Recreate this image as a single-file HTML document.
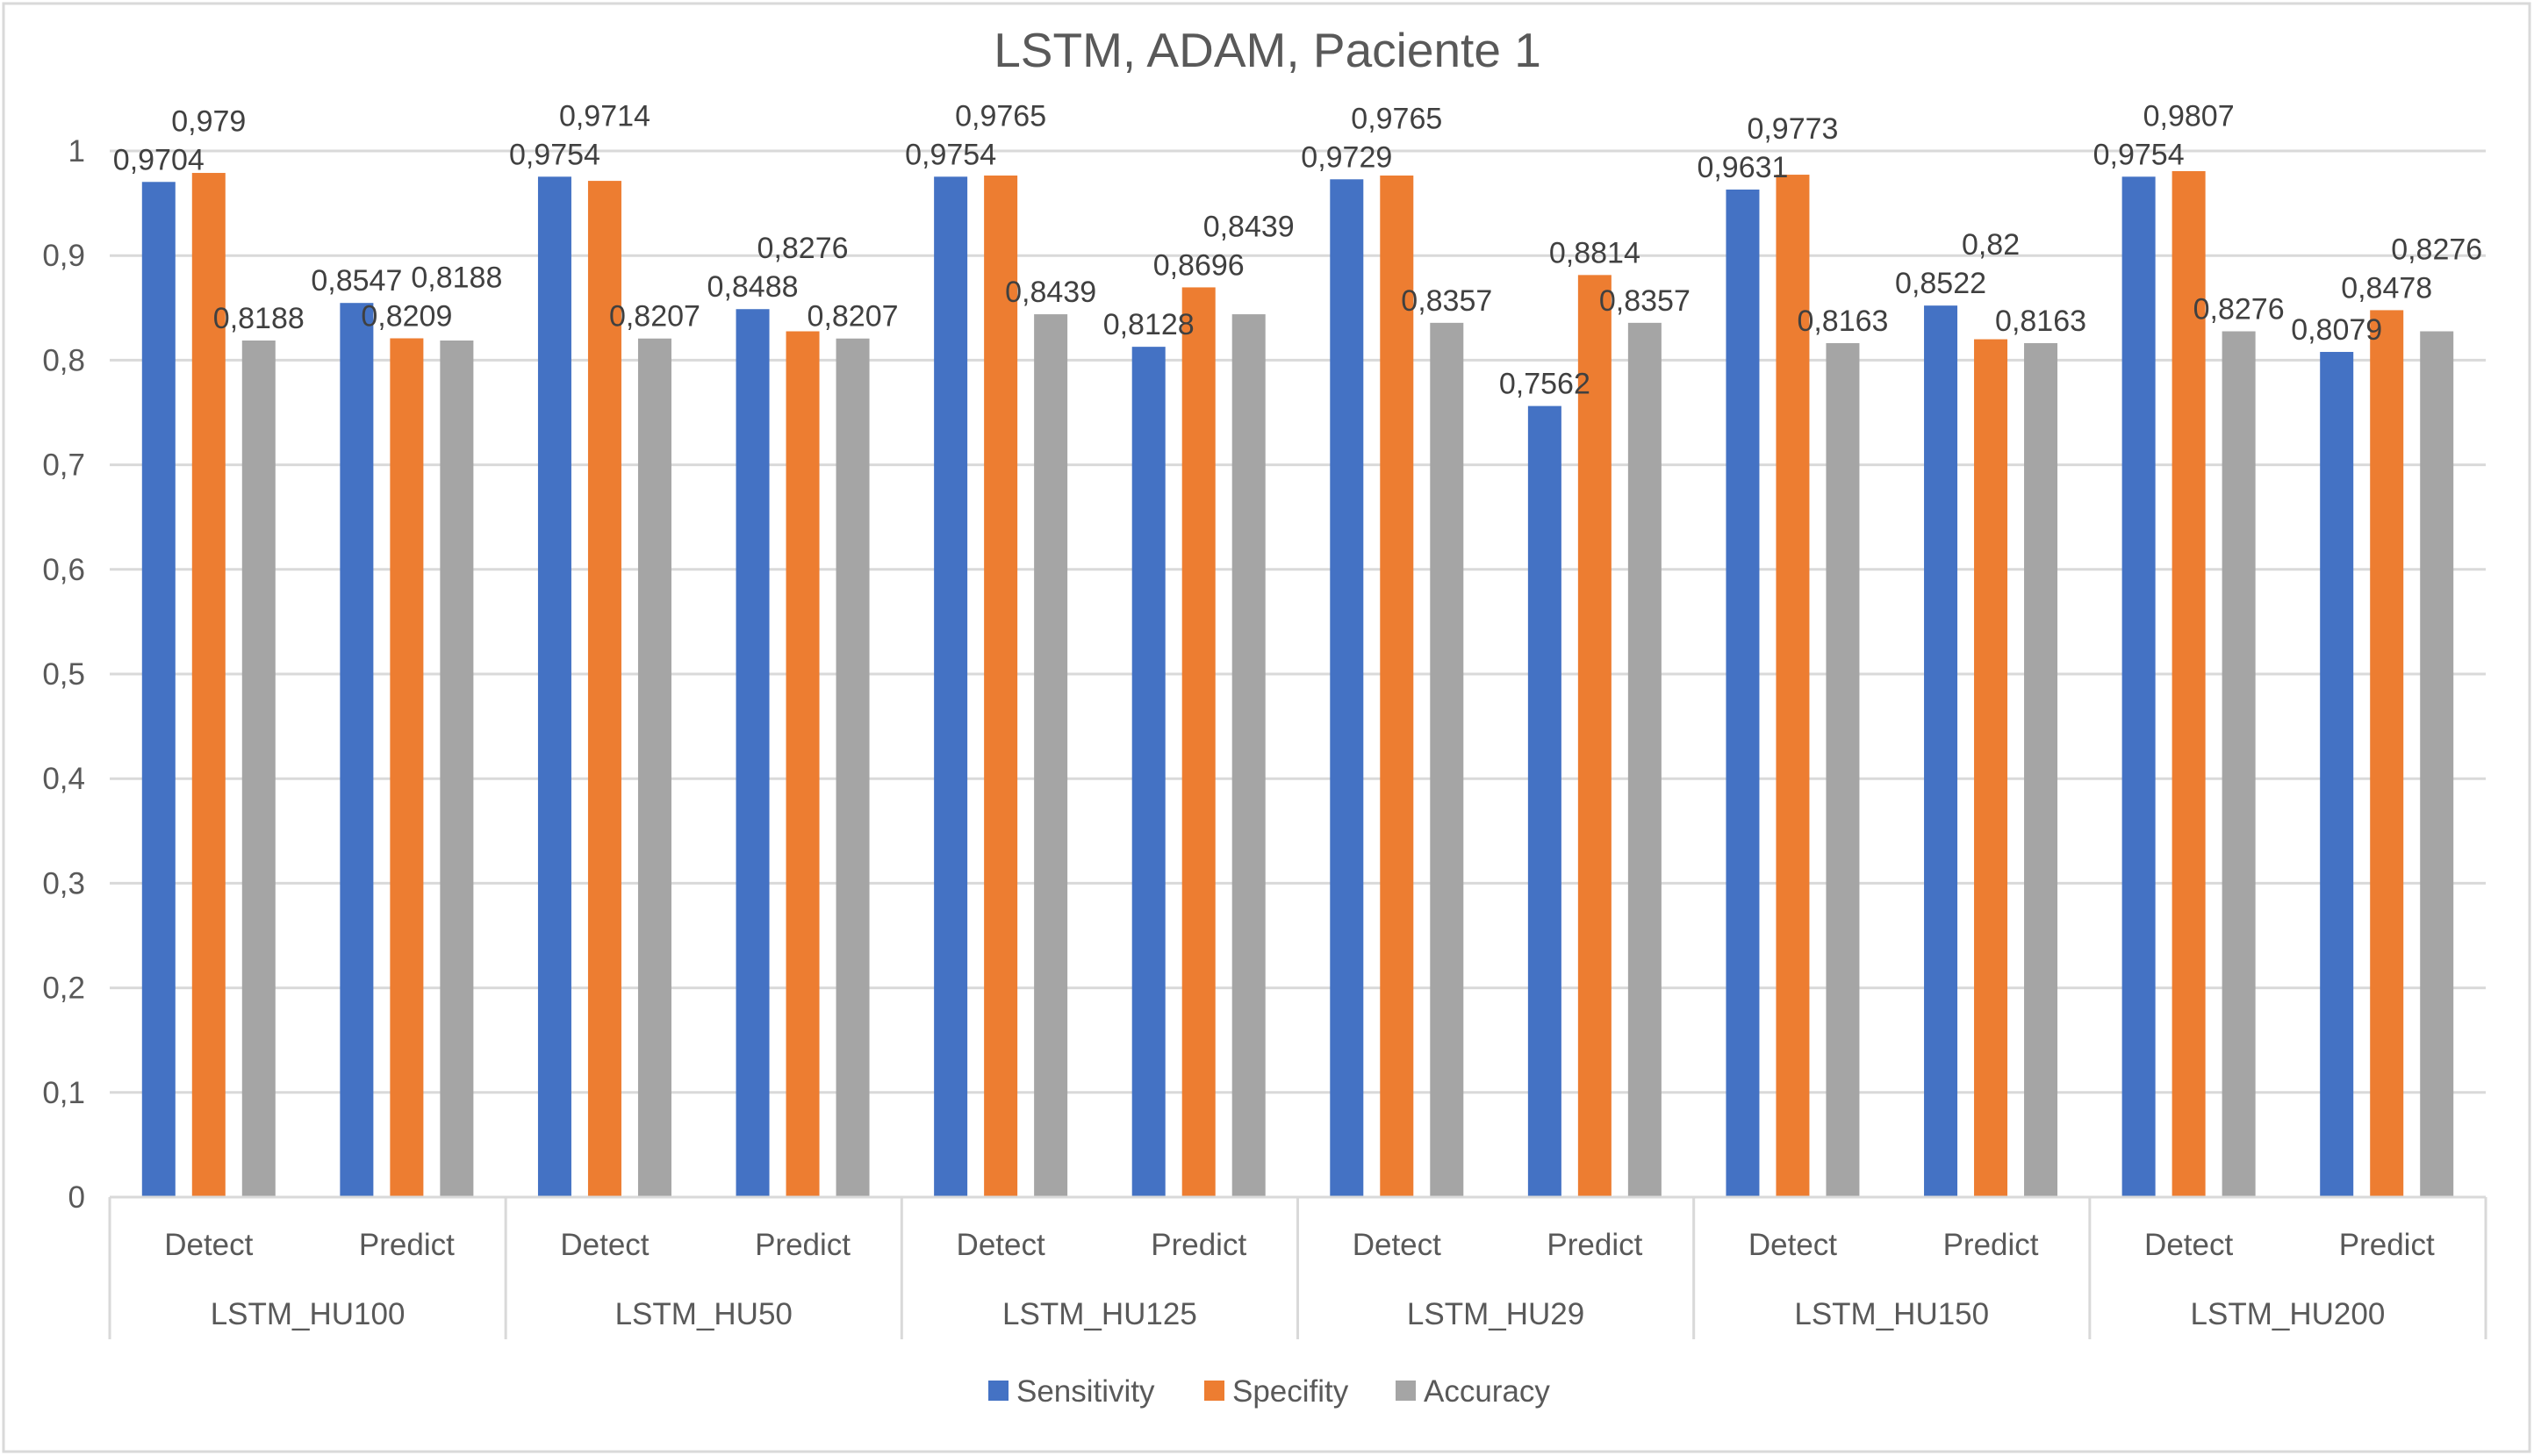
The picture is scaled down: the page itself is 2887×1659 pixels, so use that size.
<!DOCTYPE html>
<html><head><meta charset="utf-8"><style>
html,body{margin:0;padding:0;background:#fff;}
svg{display:block;font-family:"Liberation Sans",sans-serif;}
</style></head><body>
<svg id="chart" width="2887" height="1659" viewBox="0 0 2887 1659" xmlns="http://www.w3.org/2000/svg">
<rect x="4" y="4" width="2878" height="1650" fill="#fff" stroke="#d9d9d9" stroke-width="3"/>
<text x="1444" y="76" text-anchor="middle" font-size="55" fill="#595959">LSTM, ADAM, Paciente 1</text>
<g id="grid"></g><g id="bars"></g><g id="labels"></g><g id="axis"></g>
<g>
<rect x="1126" y="1573" width="23" height="23" fill="#4472C4"/>
<text x="1158" y="1597" font-size="35" fill="#595959">Sensitivity</text>
<rect x="1372" y="1573" width="23" height="23" fill="#ED7D31"/>
<text x="1404" y="1597" font-size="35" fill="#595959">Specifity</text>
<rect x="1590" y="1573" width="23" height="23" fill="#A5A5A5"/>
<text x="1622" y="1597" font-size="35" fill="#595959">Accuracy</text>
</g>
</svg>
<script>
const groups = ["LSTM_HU100","LSTM_HU50","LSTM_HU125","LSTM_HU29","LSTM_HU150","LSTM_HU200"];
const subCats = ["Detect","Predict"];
const sensitivity = [0.9704,0.8547,0.9754,0.8488,0.9754,0.8128,0.9729,0.7562,0.9631,0.8522,0.9754,0.8079];
const specifity = [0.979,0.8209,0.9714,0.8276,0.9765,0.8696,0.9765,0.8814,0.9773,0.82,0.9807,0.8478];
const accuracy = [0.8188,0.8188,0.8207,0.8207,0.8439,0.8439,0.8357,0.8357,0.8163,0.8163,0.8276,0.8276];
const yTicks = [0,0.1,0.2,0.3,0.4,0.5,0.6,0.7,0.8,0.9,1];
const tickLabels = ["0","0,1","0,2","0,3","0,4","0,5","0,6","0,7","0,8","0,9","1"];

const NS="http://www.w3.org/2000/svg";
const X0=125, X1=2832, Y0=1364, Y1=172;
const nCat = groups.length*subCats.length;
const catW=(X1-X0)/nCat;
function y(v){return Y0-(v-0)/(1-0)*(Y0-Y1);}
function xc(i){return X0+catW*(i+0.5);}
function mk(tag,attrs,parent){const e=document.createElementNS(NS,tag);for(const k in attrs)e.setAttribute(k,attrs[k]);document.getElementById(parent).appendChild(e);return e;}
const fmt=v=>String(v).replace('.',',');

yTicks.forEach((t,i)=>{
  if(i>0){const g=mk('line',{x1:X0,x2:X1,y1:y(t),y2:y(t),stroke:'#d9d9d9','stroke-width':3},'grid');
  
  }
  const tl=mk('text',{x:97,y:y(t)+12,'text-anchor':'end','font-size':35,fill:'#595959'},'axis');
  tl.textContent=tickLabels[i];
  
  
});
const ax=mk('line',{x1:X0,x2:X1,y1:Y0,y2:Y0,stroke:'#d9d9d9','stroke-width':3},'axis');


for(let g=0;g<=groups.length;g++){
  const xx=X0+g*catW*subCats.length;
  const l=mk('line',{x1:xx,x2:xx,y1:Y0,y2:1526,stroke:'#d9d9d9','stroke-width':3},'axis');
  
  
}
groups.forEach((gn,g)=>{
  const t=mk('text',{x:X0+catW*subCats.length*(g+0.5),y:1509,'text-anchor':'middle','font-size':35,fill:'#595959'},'axis');
  t.textContent=gn;
  
  
});
for(let i=0;i<nCat;i++){
  const t=mk('text',{x:xc(i),y:1430,'text-anchor':'middle','font-size':35,fill:'#595959'},'axis');
  t.textContent=subCats[i%subCats.length];
  
  
}
const series=[[sensitivity,'#4472C4','sensitivity'],[specifity,'#ED7D31','specifity'],[accuracy,'#A5A5A5','accuracy']];
const off=[-57,0,57], bw=38, lw=108, lh=40;
for(let i=0;i<nCat;i++){
  const placed=[];
  series.forEach((s,k)=>{
    const v=s[0][i], cx=xc(i)+off[k];
    const r=mk('rect',{x:cx-bw/2,y:y(v),width:bw,height:Y0-y(v),fill:s[1]},'bars');
    
    
    let by=y(v)-14;
    let moved=true;
    while(moved){moved=false;
      for(const p of placed){
        if(Math.abs(p.x-cx)<lw && Math.abs(p.y-by)<lh){by=p.y-lh-4;moved=true;}
      }}
    placed.push({x:cx,y:by});
    const t=mk('text',{x:cx,y:by,'text-anchor':'middle','font-size':34,fill:'#404040'},'labels');
    t.textContent=fmt(v);
    
    
  });
}
</script>
</body></html>
